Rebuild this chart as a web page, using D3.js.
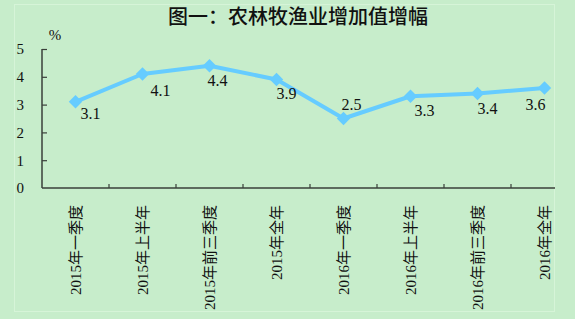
<!DOCTYPE html>
<html>
<head>
<meta charset="utf-8">
<script src="https://cdn.jsdelivr.net/npm/d3@7"></script>
<style>
  html, body { margin: 0; padding: 0; background: #c7edcb; }
  svg { display: block; }
</style>
</head>
<body>
<div id="chart"></div>
<script>
// Data
const categories = ["2015年一季度", "2015年上半年", "2015年前三季度", "2015年全年",
                    "2016年一季度", "2016年上半年", "2016年前三季度", "2016年全年"];
const values = [3.1, 4.1, 4.4, 3.9, 2.5, 3.3, 3.4, 3.6];
const yTicks = [0, 1, 2, 3, 4, 5];
// label nudges relative to each point (dx, dy)
const labelDx = [15, 18, 8, 10, 8, 14, 10, -9];
const labelDy = [12, 16, 15, 14, -14, 14, 15, 16];

const W = 575, H = 319;
const serif = '"Liberation Serif", "Times New Roman", "Noto Sans CJK SC", serif';

const svg = d3.select("#chart").append("svg")
    .attr("width", W)
    .attr("height", H);

svg.append("rect")
    .attr("width", W).attr("height", H)
    .attr("fill", "#c7edcb");

// faint inner frame
svg.append("rect")
    .attr("x", 14.5).attr("y", 4.5)
    .attr("width", 540).attr("height", 307)
    .attr("fill", "none")
    .attr("stroke", "#d6f4d8")
    .attr("stroke-width", 1);

// Title
svg.append("text")
    .attr("x", 298).attr("y", 24)
    .attr("text-anchor", "middle")
    .style("font-family", '"Noto Sans CJK SC", sans-serif')
    .style("font-size", "20px")
    .style("font-weight", "500")
    .attr("fill", "#111")
    .text("图一：农林牧渔业增加值增幅");

// Scales
const x = d3.scaleBand()
    .domain(categories)
    .range([42, 42 + 67 * categories.length])
    .padding(0);

const y = d3.scaleLinear()
    .domain([0, 5])
    .range([188, 49]);

const axisRight = 555;
const axisColor = "#3a3f3a";

// Y axis
const yAxis = svg.append("g")
    .attr("transform", "translate(42,0)")
    .call(d3.axisLeft(y).tickValues(yTicks).tickSize(-5).tickPadding(18).tickFormat(d3.format("d")));
yAxis.select(".domain").remove();
yAxis.selectAll(".tick line").attr("stroke", axisColor).attr("stroke-width", 1.2)
    .filter(d => d === 0).remove();
yAxis.selectAll(".tick text")
    .style("font-family", serif)
    .style("font-size", "15px")
    .attr("fill", "#111");

svg.append("line")
    .attr("x1", 42).attr("x2", 42)
    .attr("y1", y(5)).attr("y2", y(0))
    .attr("stroke", axisColor).attr("stroke-width", 1.5);

// "%" unit
svg.append("text")
    .attr("x", 55).attr("y", 40)
    .attr("text-anchor", "middle")
    .style("font-family", serif)
    .style("font-size", "15px")
    .attr("fill", "#111")
    .text("%");

// X axis
svg.append("line")
    .attr("x1", 42).attr("x2", axisRight)
    .attr("y1", y(0)).attr("y2", y(0))
    .attr("stroke", axisColor).attr("stroke-width", 1.5);

svg.append("g").selectAll("line")
    .data(categories.slice(1).filter(c => x(c) < axisRight))
    .join("line")
    .attr("x1", d => x(d)).attr("x2", d => x(d))
    .attr("y1", y(0)).attr("y2", y(0) - 4)
    .attr("stroke", axisColor).attr("stroke-width", 1.2);

svg.append("g").selectAll("text")
    .data(categories)
    .join("text")
    .attr("transform", d => `translate(${x(d) + x.bandwidth() / 2},205) rotate(-90)`)
    .attr("dy", "0.35em")
    .attr("text-anchor", "end")
    .style("font-family", serif)
    .style("font-size", "15px")
    .attr("fill", "#111")
    .text(d => d);

// Line
const line = d3.line()
    .x((d, i) => x(categories[i]) + x.bandwidth() / 2)
    .y(d => y(d));

svg.append("path")
    .datum(values)
    .attr("d", line)
    .attr("fill", "none")
    .attr("stroke", "#66ccff")
    .attr("stroke-width", 4)
    .attr("stroke-linejoin", "round");

svg.append("g").selectAll("path")
    .data(values)
    .join("path")
    .attr("d", d3.symbol().type(d3.symbolSquare).size(90))
    .attr("transform", (d, i) => `translate(${x(categories[i]) + x.bandwidth() / 2},${y(d)}) rotate(45)`)
    .attr("fill", "#66ccff");

// Data labels
svg.append("g").selectAll("text")
    .data(values)
    .join("text")
    .attr("x", (d, i) => x(categories[i]) + x.bandwidth() / 2 + labelDx[i])
    .attr("y", (d, i) => y(d) + labelDy[i])
    .attr("dy", "0.35em")
    .attr("text-anchor", "middle")
    .style("font-family", serif)
    .style("font-size", "16px")
    .attr("fill", "#111")
    .text(d => d.toFixed(1));
</script>
</body>
</html>
